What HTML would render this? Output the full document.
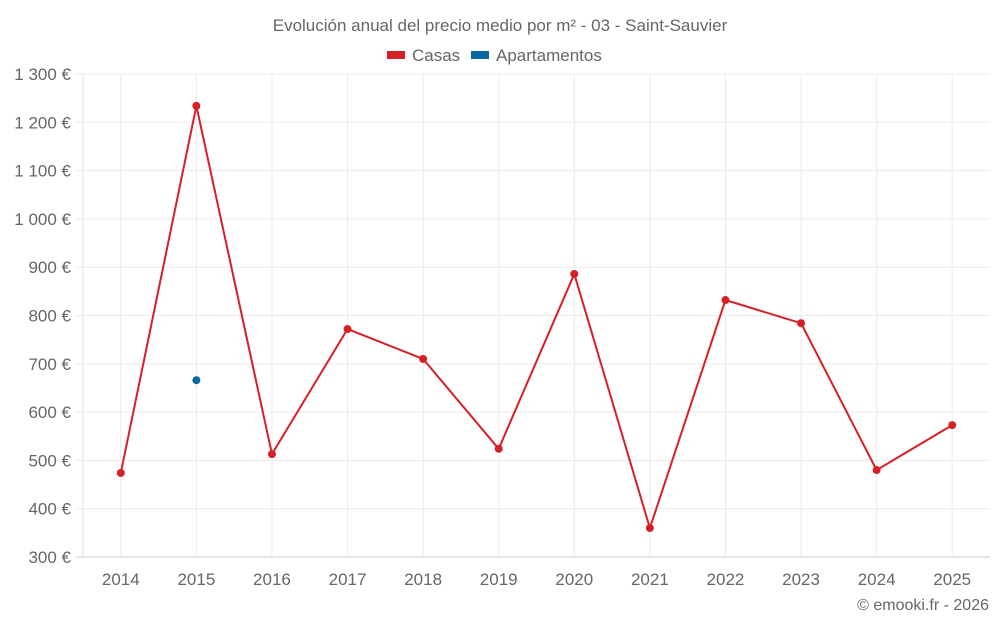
<!DOCTYPE html>
<html><head><meta charset="utf-8"><style>
body{margin:0;background:#fff;font-family:"Liberation Sans",sans-serif;}
svg text{font-family:"Liberation Sans",sans-serif;fill:#666;}
</style></head><body>
<svg id="c" width="1000" height="625">
<text x="500" y="31" text-anchor="middle" font-size="17">Evolución anual del precio medio por m² - 03 - Saint-Sauvier</text>
<g><rect x="387" y="51" width="18" height="8" fill="#d62027"/><text x="412" y="61" font-size="17">Casas</text></g>
<g><rect x="471" y="51" width="18" height="8" fill="#0a67a3"/><text x="496" y="61" font-size="17">Apartamentos</text></g>
<g id="grid"></g><g id="marks"></g>
<text x="989" y="610" text-anchor="end" font-size="16">© emooki.fr - 2026</text>
</svg>
<script>
const years=[2014,2015,2016,2017,2018,2019,2020,2021,2022,2023,2024,2025];
const casas=[474,1234,513,772,710,524,886,360,832,784,480,573];
const apartamentos=[null,666,null,null,null,null,null,null,null,null,null,null];
const yTicks=[300,400,500,600,700,800,900,1000,1100,1200,1300];
const yLabels=["300 €","400 €","500 €","600 €","700 €","800 €","900 €","1 000 €","1 100 €","1 200 €","1 300 €"];
const L=83,R=990,T=74,B=557,ymin=300,ymax=1300;
const ns="http://www.w3.org/2000/svg";
const y=v=>B-(v-ymin)/(ymax-ymin)*(B-T);
const bw=(R-L)/years.length;
const x=i=>L+bw*(i+0.5);
function mk(t,a,p){const e=document.createElementNS(ns,t);for(const k in a)e.setAttribute(k,a[k]);p.appendChild(e);return e;}
const g=document.getElementById('grid'),m=document.getElementById('marks');
yTicks.forEach((v,i)=>{
 const l=mk('line',{x1:76,x2:R,y1:y(v),y2:y(v),stroke:i==0?'#ccc':'#ebebeb'},g);
 
 
 const t=mk('text',{x:71,y:y(v)+6,'text-anchor':'end','font-size':17},g);t.textContent=yLabels[i];
 
 
});
mk('line',{x1:L,x2:L,y1:T,y2:B,stroke:'#e0e0e0'},g);
years.forEach((yr,i)=>{
 const l=mk('line',{x1:x(i),x2:x(i),y1:T,y2:B,stroke:'#ebebeb'},g);
 
 
 const t=mk('text',{x:x(i),y:585,'text-anchor':'middle','font-size':17},g);t.textContent=yr;
 
 
});
const pl=mk('polyline',{points:casas.map((v,i)=>x(i)+','+y(v)).join(' '),fill:'none',stroke:'#d62027','stroke-width':2},m);


casas.forEach((v,i)=>{const c=mk('circle',{cx:x(i),cy:y(v),r:4,fill:'#d62027'},m);
 
 });
apartamentos.forEach((v,i)=>{if(v==null)return;const c=mk('circle',{cx:x(i),cy:y(v),r:4,fill:'#0a67a3'},m);
 
 });
</script>
</body></html>
